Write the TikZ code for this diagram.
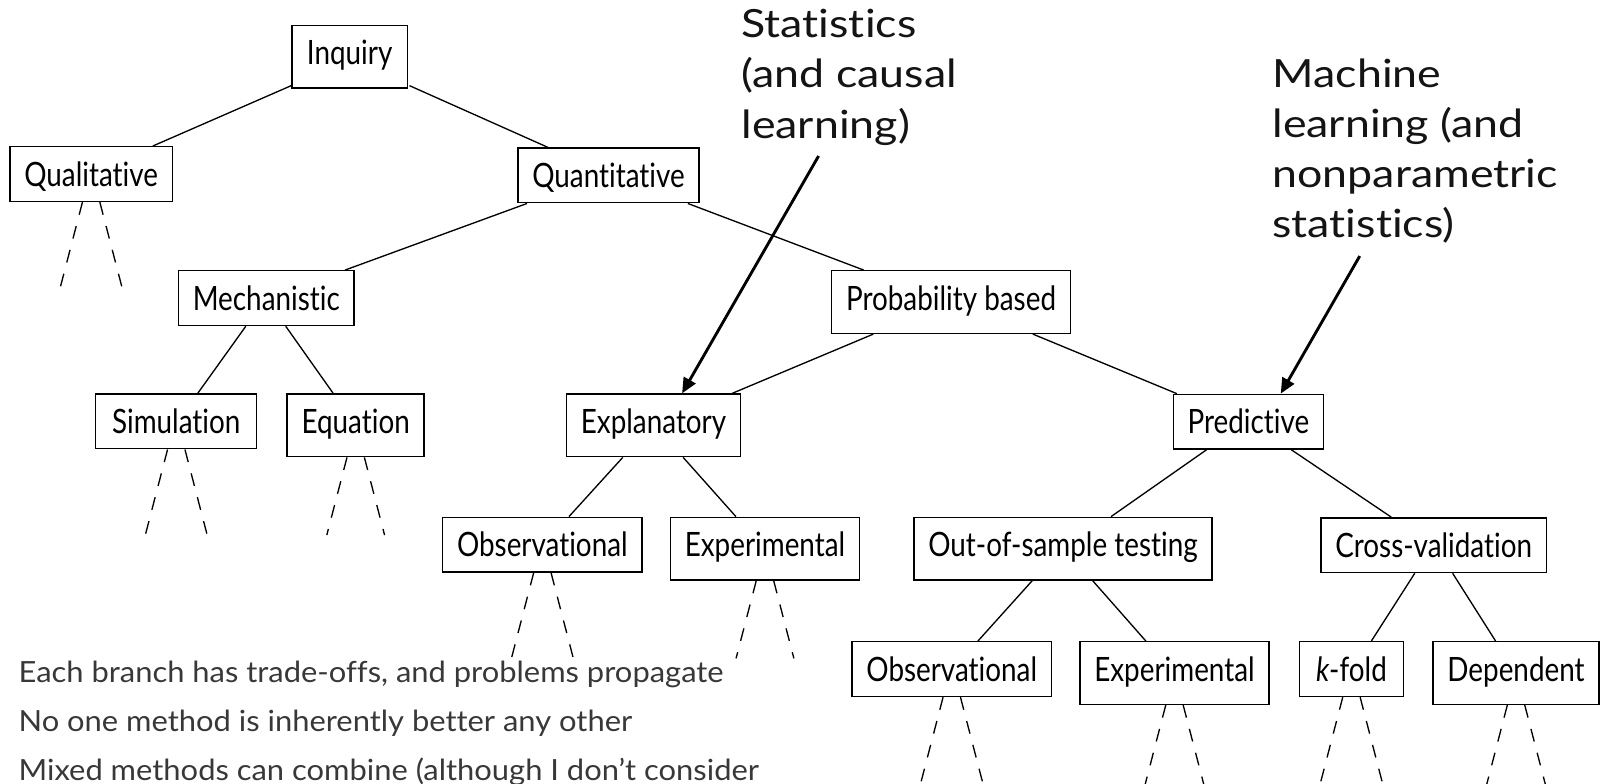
\documentclass[tikz,border=0pt]{standalone}
\usepackage{fontspec}
\setmainfont{Lato}[Ligatures=NoCommon]
\newfontfamily\boxfont{Lato}[FakeStretch=0.83, Ligatures=NoCommon]
\newfontfamily\notefont{Lato}[FakeStretch=1.15, Ligatures=NoCommon]
\newfontfamily\smallnotefont{Lato}[FakeStretch=1.06, Ligatures=NoCommon]
\usetikzlibrary{arrows.meta,calc}
\definecolor{notegray}{HTML}{383838}
\definecolor{inkgray}{HTML}{141414}

\tikzset{
  box/.style={draw, line width=1.4pt, fill=white, anchor=north,
    font=\boxfont\fontsize{32.8}{36}\selectfont,
    inner xsep=14pt, inner ysep=15pt, text height=23.5pt, text depth=0pt},
  deep/.style={text depth=7.7pt},
  link/.style={line width=1.3pt},
  fork/.style={line width=1.3pt, dash pattern=on 12.7pt off 11.4pt},
  pointer/.style={line width=2.8pt, -{Triangle[length=15pt,width=13pt]}},
  note/.style={font=\notefont\fontsize{38}{49}\selectfont, align=left,
    inner sep=0pt, anchor=north west, text=inkgray},
  takeaway/.style={note, font=\smallnotefont\fontsize{28.5}{47.5}\selectfont, text=notegray},
}

% two dashed strokes fanning out below a leaf: node name, drop length
\newcommand\forkdown[2]{%
  \draw[fork] ([xshift=-8.5pt]#1.south) -- ++({-0.26*#2},#2);
  \draw[fork] ([xshift=8.5pt]#1.south) -- ++({0.26*#2},#2);}

\begin{document}
\begin{tikzpicture}[x=1pt, y=-1pt]
\useasboundingbox (0,0) rectangle (1568,766);
\clip (0,0) rectangle (1568,766);

% tree of methods
\node[box, deep, minimum width=112.7] (inq)   at (341.8,24.1)  {Inquiry};
\node[box, minimum width=156.6]       (qual)  at (89.1,142.7)  {Qualitative};
\node[box, minimum width=172.8]       (quant) at (594.9,144)   {Quantitative};
\node[box, minimum width=168.7]       (mech)  at (260.3,264)   {Mechanistic};
\node[box, deep, minimum width=231.5] (prob)  at (929.7,264)   {Probability based};
\node[box, minimum width=157.4]       (sim)   at (172.3,384.5) {Simulation};
\node[box, deep, minimum width=133.9] (equ)   at (347.7,384.5) {Equation};
\node[box, deep, minimum width=166.2] (expl)  at (638.8,384.5) {Explanatory};
\node[box, minimum width=142.8]       (pred)  at (1220.4,384.8) {Predictive};
\node[box, minimum width=192.3]       (obsA)  at (530.2,505)   {Observational};
\node[box, deep, minimum width=184.8] (expA)  at (747.8,505)   {Experimental};
\node[box, deep, minimum width=283.4] (oos)   at (1039.1,505)  {Out-of-sample testing};
\node[box, minimum width=215.6]       (cv)    at (1401.5,505.5) {Cross-validation};
\node[box, minimum width=192.3]       (obsB)  at (930.4,626.6) {Observational};
\node[box, deep, minimum width=184.8] (expB)  at (1148.1,626.6) {Experimental};
\node[box, minimum width=101.7]       (kf)    at (1321.1,626.6) {{\itshape k}-fold};
\node[box, deep, minimum width=160.3] (dep)   at (1482,626.6)  {Dependent};

% branches
\draw[link] ([yshift=3pt]inq.south west) -- ([xshift=60.4pt]qual.north);
\draw[link] ([xshift=1.4pt,yshift=3pt]inq.south east) -- ([xshift=-59.4pt]quant.north);
\draw[link] ([xshift=9.5pt]quant.south west) -- ([xshift=77pt]mech.north);
\draw[link] ([xshift=-11.7pt]quant.south east) -- ([xshift=-85.4pt]prob.north);
\draw[link] ([xshift=-20pt]mech.south) -- ([xshift=21pt]sim.north);
\draw[link] ([xshift=19pt]mech.south) -- ([xshift=-22pt]equ.north);
\draw[link] ([xshift=-76pt]prob.south) -- ([xshift=77pt]expl.north);
\draw[link] ([xshift=80pt]prob.south) -- ([xshift=-70pt]pred.north);
\draw[link] ([xshift=-30pt]expl.south) -- ([xshift=26pt]obsA.north);
\draw[link] ([xshift=29pt]expl.south) -- ([xshift=-28.4pt]expA.north);
\draw[link] ([xshift=-41pt]pred.south) -- ([xshift=47pt]oos.north);
\draw[link] ([xshift=42pt]pred.south) -- ([xshift=-41.5pt]cv.north);
\draw[link] ([xshift=-30pt]oos.south) -- ([xshift=25.6pt]obsB.north);
\draw[link] ([xshift=29pt]oos.south) -- ([xshift=-28pt]expB.north);
\draw[link] ([xshift=-18.5pt]cv.south) -- ([xshift=19.5pt]kf.north);
\draw[link] ([xshift=18.5pt]cv.south) -- ([xshift=-20pt]dep.north);

% unexplored continuations
\forkdown{qual}{83.5}
\forkdown{sim}{84}
\forkdown{equ}{76}
\forkdown{obsA}{83}
\forkdown{expA}{76}
\forkdown{obsB}{100}
\forkdown{expB}{100}
\forkdown{kf}{100}
\forkdown{dep}{100}

% callouts
\node[note] (statnote) at (724.7,9.1) {Statistics\\(and causal\\learning)};
\coordinate (statfoot) at (800.2,152.5);
\draw[pointer] (statfoot) -- ([xshift=28pt]expl.north);

\node[note] (mlnote) at (1243.8,57.3) {Machine\\learning (and\\nonparametric\\statistics)};
\coordinate (mlfoot) at (1329.2,250.3);
\draw[pointer] (mlfoot) -- ([xshift=31.6pt]pred.north);

\node[takeaway] (takeaways) at (18,646.3) {Each branch has trade-offs, and problems propagate\\No one method is inherently better any other\\Mixed methods can combine (although I don’t consider};
\end{tikzpicture}
\end{document}
